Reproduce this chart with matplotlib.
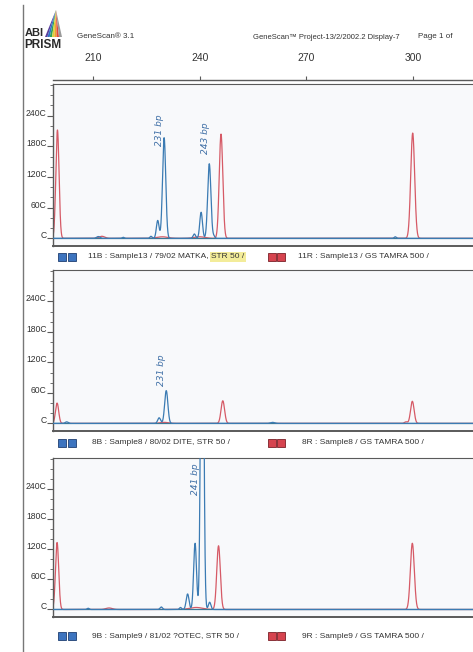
import numpy as np
import matplotlib
matplotlib.use('Agg')
import matplotlib.pyplot as plt
from matplotlib.patches import Polygon, Rectangle
from matplotlib.lines import Line2D

FONT = ['Liberation Sans', 'DejaVu Sans']
plt.rcParams['font.family'] = FONT

# ---------------- data ----------------
x_ticks = [210, 240, 270, 300]
y_ticks = [0, 600, 1200, 1800, 2400]
y_tick_labels = ['C', '60C', '120C', '180C', '240C']

header_left = 'GeneScan® 3.1'
header_mid = 'GeneScan™ Project-13/2/2002.2 Display-7'
header_right = 'Page 1 of'

# panel 1 (Sample13)
p1_blue_pos = [211.5, 218.5, 226.3, 228.2, 230.0, 238.5, 240.4, 242.7, 244.0, 295.0]
p1_blue_h = [35, 20, 40, 350, 1970, 85, 510, 1460, 40, 30]
p1_blue_w = [0.5, 0.3, 0.3, 0.38, 0.45, 0.35, 0.38, 0.45, 0.3, 0.3]
p1_red_pos = [200.0, 212.5, 229.5, 240.0, 246.0, 299.9]
p1_red_h = [2120, 40, 30, 30, 2040, 2060]
p1_red_w = [0.45, 0.8, 1.5, 1.5, 0.5, 0.55]

# panel 2 (Sample8)
p2_blue_pos = [202.6, 228.6, 230.6, 260.5]
p2_blue_h = [30, 110, 645, 20]
p2_blue_w = [0.4, 0.4, 0.45, 0.6]
p2_red_pos = [199.9, 230.0, 246.5, 298.0, 299.8]
p2_red_h = [400, 20, 445, 30, 435]
p2_red_w = [0.45, 1.2, 0.5, 0.4, 0.5]

# panel 3 (Sample9)
p3_blue_pos = [208.6, 229.2, 234.6, 236.6, 238.7, 240.7, 242.8]
p3_blue_h = [25, 50, 40, 310, 1320, 9000, 145]
p3_blue_w = [0.3, 0.35, 0.3, 0.4, 0.4, 0.4, 0.35]
p3_red_pos = [199.9, 214.5, 239.0, 245.3, 299.8]
p3_red_h = [1335, 30, 40, 1270, 1320]
p3_red_w = [0.45, 0.9, 1.8, 0.5, 0.55]

legend_blue = ['11B : Sample13 / 79/02 MATKA, ', '8B : Sample8 / 80/02 DITE, STR 50 /',
               '9B : Sample9 / 81/02 ?OTEC, STR 50 /']
legend_highlight = 'STR 50 /'
legend_red = ['11R : Sample13 / GS TAMRA 500 /', '8R : Sample8 / GS TAMRA 500 /',
              '9R : Sample9 / GS TAMRA 500 /']

notes = [[('231 bp', 228.8, 2120), ('243 bp', 241.5, 1960)],
         [('231 bp', 229.4, 1050)],
         [('241 bp', 238.8, 2600)]]

# ---------------- layout ----------------
W, H = 473, 652
fig = plt.figure(figsize=(W / 100, H / 100), dpi=100)
fig.patch.set_facecolor('white')

def fpos(x0, y_top, x1, y_bot):
    return [x0 / W, 1 - y_bot / H, (x1 - x0) / W, (y_bot - y_top) / H]

XMIN = 198.75
XMAX = XMIN + (478 - 53) / 3.556
YLIM = (-150, 3020)

BLUE = '#3b7bb3'
BASE = '#3a7896'
RED = '#d65a66'
SPINE = '#5a5a5a'
INK = '#3f6fa6'
TXT = '#333333'

panels = [
    (84, 246, p1_blue_pos, p1_blue_h, p1_blue_w, p1_red_pos, p1_red_h, p1_red_w),
    (270, 431, p2_blue_pos, p2_blue_h, p2_blue_w, p2_red_pos, p2_red_h, p2_red_w),
    (458, 617, p3_blue_pos, p3_blue_h, p3_blue_w, p3_red_pos, p3_red_h, p3_red_w),
]

xs = np.linspace(XMIN, XMAX, 6000)

def trace(pos, h, w):
    y = np.zeros_like(xs)
    for p, a, s in zip(pos, h, w):
        y += a * np.exp(-(xs - p) ** 2 / (2 * s ** 2))
    return y

for i, (yt, yb, bp, bh, bw, rp, rh, rw) in enumerate(panels):
    ax = fig.add_axes(fpos(53, yt, 478, yb))
    ax.set_facecolor('#f8f9fb')
    ax.plot(xs, trace(rp, rh, rw), color=RED, lw=0.9, zorder=2)
    ax.plot(xs, trace(bp, bh, bw), color=BLUE, lw=0.9, zorder=3)
    ax.axhline(0, color=BASE, lw=0.9, zorder=2.5)
    ax.set_xlim(XMIN, XMAX)
    ax.set_ylim(*YLIM)
    ax.set_xticks([])
    ax.set_yticks(y_ticks)
    ax.set_yticklabels(y_tick_labels)
    ax.set_yticks(np.arange(0, 3001, 200), minor=True)
    ax.tick_params(axis='y', which='major', length=4, width=0.8, pad=0.5,
                   labelsize=6.2, colors=SPINE, labelcolor=TXT)
    ax.tick_params(axis='y', which='minor', length=2, width=0.6, colors=SPINE)
    for lab in ax.get_yticklabels():
        lab.set_va('baseline')
    for s in ['left', 'top', 'bottom']:
        ax.spines[s].set_color(SPINE)
    ax.spines['left'].set_linewidth(1.0)
    ax.spines['top'].set_linewidth(0.8)
    ax.spines['bottom'].set_linewidth(1.4)
    ax.spines['right'].set_visible(False)
    for txt, xv, yv in notes[i]:
        ax.text(xv, yv, txt, rotation=90, ha='center', va='center', fontsize=6.5,
                color=INK, style='italic', family=['DejaVu Sans'], zorder=4)

# top size axis
axt = fig.add_axes(fpos(53, 62, 478, 80))
axt.set_xlim(XMIN, XMAX)
axt.set_ylim(0, 1)
axt.patch.set_alpha(0)
for s in ['left', 'top', 'right']:
    axt.spines[s].set_visible(False)
axt.spines['bottom'].set_color(SPINE)
axt.spines['bottom'].set_linewidth(1.0)
axt.set_yticks([])
axt.set_xticks(x_ticks)
axt.set_xticklabels([str(v) for v in x_ticks])
axt.tick_params(axis='x', bottom=True, top=False, direction='in', length=3,
                width=0.8, colors=SPINE, labelbottom=False, labeltop=True,
                pad=-1, labelsize=7.5, labelcolor=TXT)

# overlay in pixel coordinates
ov = fig.add_axes([0, 0, 1, 1])
ov.set_xlim(0, W)
ov.set_ylim(H, 0)
ov.axis('off')
ov.patch.set_alpha(0)

# page edge line
ov.add_line(Line2D([22.5, 22.5], [5, H], color='#777777', lw=1.0))

# logo
ov.text(25, 36.5, 'ABI', fontsize=8.0, fontweight='bold', color='#2a2a2a', va='baseline',
        ha='left')
ov.text(24.5, 48.5, 'PRISM', fontsize=8.5, fontweight='bold', color='#2a2a2a', va='baseline',
        ha='left')
apex = (56, 10)
base_l, base_r = 45.0, 62.0
cols = ['#5a3f9e', '#2f6fc8', '#2fa05a', '#d9d23a', '#f0a030', '#e04a3a']
n = len(cols)
for k, c in enumerate(cols):
    xa = base_l + (base_r - 3 - base_l) * k / n
    xb = base_l + (base_r - 3 - base_l) * (k + 1) / n
    ov.add_patch(Polygon([apex, (xa, 37), (xb, 37)], closed=True, color=c, lw=0))
ov.add_patch(Polygon([apex, (base_r - 3, 37), (base_r, 37)], closed=True, color='#9a9a9a', lw=0))

# header texts
ov.text(77, 37, header_left, fontsize=5.8, color=TXT, va='center', ha='left')
ov.text(253, 37, header_mid, fontsize=5.5, color=TXT, va='center', ha='left')
ov.text(418, 37, header_right, fontsize=5.8, color=TXT, va='center', ha='left')

# legend rows
rows_y = [257, 443, 636]
def squares(x0, yc, face, edge):
    for dx in (0, 9.5):
        ov.add_patch(Rectangle((x0 + dx, yc - 3.8), 8, 7.6, facecolor=face,
                               edgecolor=edge, lw=0.6))

LFS = 6.0
for k, yc in enumerate(rows_y):
    squares(58, yc, '#3d74bf', '#1f3f72')
    squares(267.5, yc, '#d6444f', '#7a2028')
    bx = 88 if k == 0 else 92
    t = ov.text(bx, yc, legend_blue[k], fontsize=LFS, color=TXT,
                va='center', ha='left')
    if k == 0:
        ov.annotate(legend_highlight, xy=(1, 0.5), xycoords=t, va='center', ha='left',
                    fontsize=LFS, color=TXT,
                    bbox=dict(boxstyle='square,pad=0.15', facecolor='#f3ec9a',
                              edgecolor='none'))
    rx = 298 if k == 0 else 302
    ov.text(rx, yc, legend_red[k], fontsize=LFS, color=TXT, va='center', ha='left')

fig.savefig('out.png', dpi=100, facecolor='white')
